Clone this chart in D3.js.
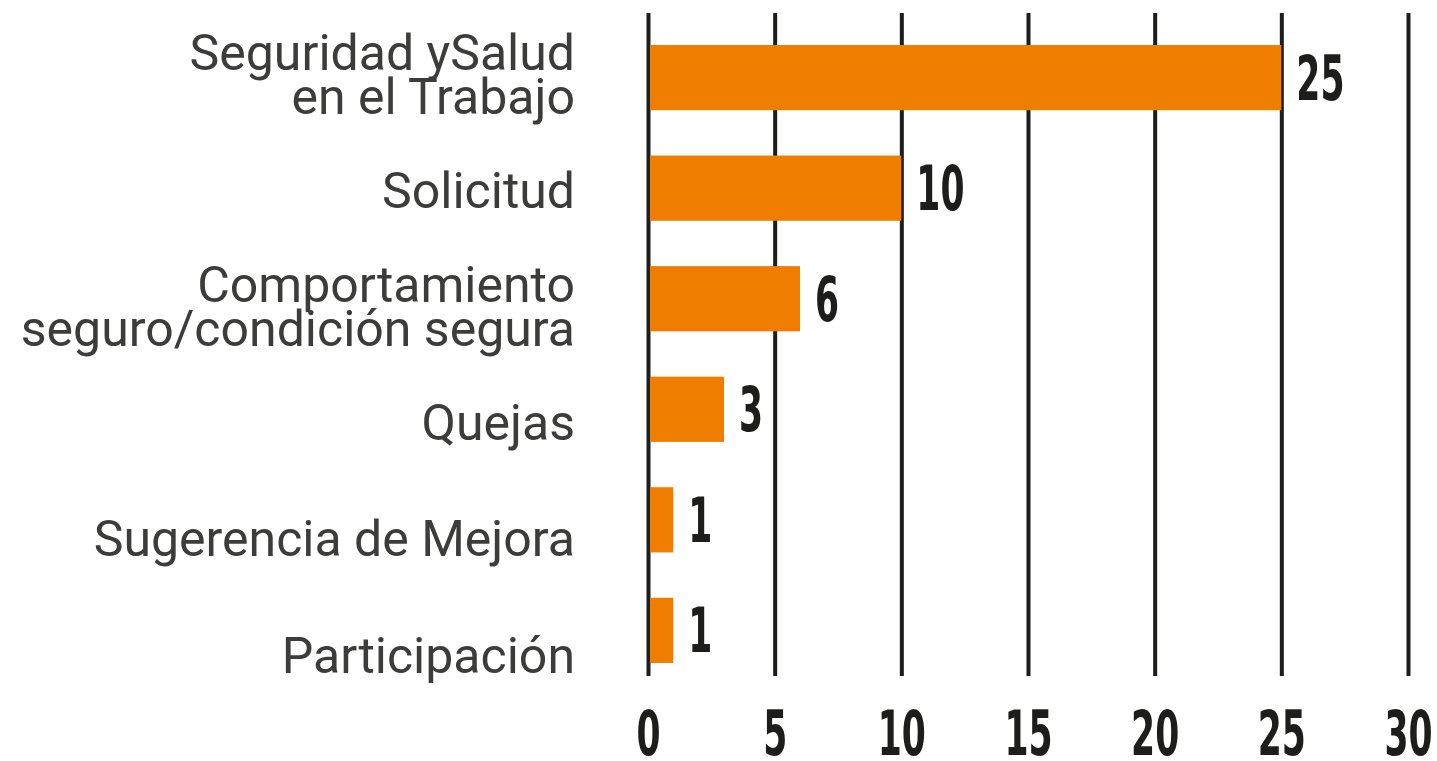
<!DOCTYPE html>
<html lang="es">
<head>
    <meta charset="UTF-8">
    <title>Reportes por tipo</title>
    <script src="https://d3js.org/d3.v7.min.js"></script>
    <style>
        body {
            margin: 0;
            padding: 0;
            background: #ffffff;
        }
        svg {
            display: block;
        }
        .cat-label {
            font-family: Roboto, "Noto Sans", sans-serif;
            font-weight: 400;
            font-size: 50px;
            fill: #3c3c3b;
        }
        .num {
            font-family: "DejaVu Sans Condensed", "DejaVu Sans", sans-serif;
            font-weight: bold;
            font-size: 62px;
            fill: #1d1d1b;
        }
    </style>
</head>
<body>
    <svg id="chart" width="1437" height="761"></svg>

    <script>
        // categories, top to bottom (each entry is the list of label lines)
        const categories = [
            ["Seguridad ySalud", "en el Trabajo"],
            ["Solicitud"],
            ["Comportamiento", "seguro/condición segura"],
            ["Quejas"],
            ["Sugerencia de Mejora"],
            ["Participación"]
        ];
        const values = [25, 10, 6, 3, 1, 1];
        const tickValues = [0, 5, 10, 15, 20, 25, 30];

        const svg = d3.select("#chart");
        const orange = "#ef7d00";
        const dark = "#1d1d1b";
        const squeeze = 0.62;   // condensed look for the numbers

        const gridTop = 13, gridBottom = 676;

        let x = d3.scaleLinear().domain([0, 30]).range([648, 1408]);
        let y = d3.scaleBand()
            .domain(d3.range(categories.length))
            .range([45, 663])
            .paddingInner(0.41)
            .paddingOuter(0);
        // the label column is spaced a bit looser than the bars
        let yLabel = d3.scalePoint()
            .domain(d3.range(categories.length))
            .range([74, 655]);

        // vertical gridlines + tick labels
        let axis = d3.axisBottom(x)
            .tickValues(tickValues)
            .tickSize(-(gridBottom - gridTop))
            .tickPadding(0);

        let gAxis = svg.append("g")
            .attr("transform", `translate(0,${gridBottom})`)
            .call(axis);
        gAxis.select(".domain").remove();
        gAxis.selectAll(".tick line")
            .attr("stroke", dark)
            .attr("stroke-width", 4);
        gAxis.selectAll(".tick text")
            .attr("class", "num")
            .attr("y", 79)
            .attr("dy", 0)
            .attr("fill", dark)
            .attr("transform", `scale(${squeeze},1)`);
        gAxis.attr("font-size", null).attr("font-family", null);

        // bars
        svg.append("g").selectAll("rect")
            .data(values)
            .join("rect")
            .attr("x", x(0) + 2)
            .attr("y", (d, i) => y(i))
            .attr("width", d => x(d) - x(0) - 2)
            .attr("height", y.bandwidth())
            .attr("fill", orange);

        // value labels
        svg.append("g").selectAll("text")
            .data(values)
            .join("text")
            .attr("class", "num")
            .attr("transform", (d, i) =>
                `translate(${x(d) + 15},${y(i) + y.bandwidth() / 2 + 22}) scale(${squeeze},1)`)
            .text(d => d);

        // category labels
        let lineH = 44;
        let labels = svg.append("g").selectAll("text")
            .data(categories)
            .join("text")
            .attr("class", "cat-label")
            .attr("text-anchor", "end")
            .attr("x", 575)
            .attr("y", (d, i) => yLabel(i) + 17.5 - (d.length - 1) * lineH / 2);

        labels.selectAll("tspan")
            .data(d => d)
            .join("tspan")
            .attr("x", 575)
            .attr("dy", (d, i) => i === 0 ? 0 : lineH)
            .text(d => d);
    </script>
</body>
</html>
